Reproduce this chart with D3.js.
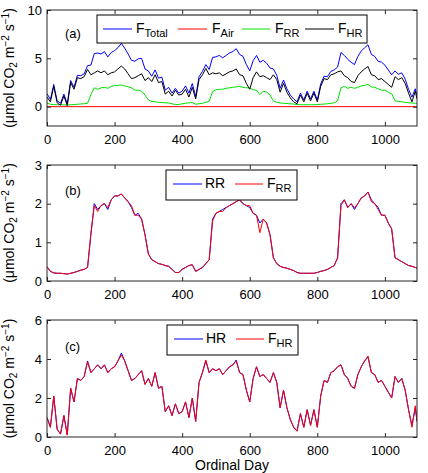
<!DOCTYPE html>
<html>
<head>
<meta charset="utf-8">
<script src="https://cdn.jsdelivr.net/npm/d3@7"></script>
<style>
  body { margin: 0; background: #fff; }
  svg text { font-family: "Liberation Sans", Arial, sans-serif; fill: #000; }
</style>
</head>
<body>
<div id="chart"></div>
<script>
// Soil respiration components (10-day sampling)
const days = d3.range(0, 1091, 10).concat([1095]);

const fTotal = [1.35, 0.75, 2.3, 0.6, 0.35, 1.3, 0.3, 2.7, 2.0, 3.25,
  3.2, 3.4, 4.25, 4.3, 5.5, 5.55, 5.45, 5.7, 5.15, 5.6,
  5.8, 6.1, 6.55, 6.05, 5.45, 4.8, 4.7, 4.95, 5.0, 3.9,
  3.7, 3.15, 3.8, 2.95, 3.05, 1.7, 2.0, 1.4, 1.9, 1.4,
  1.6, 2.15, 1.4, 2.4, 1.05, 3.1, 3.65, 4.35, 3.85, 5.1,
  5.15, 5.3, 5.05, 5.3, 5.55, 5.7, 6.0, 5.4, 5.2, 4.35,
  3.7, 4.75, 5.3, 4.6, 4.8, 4.5, 4.0, 3.9, 3.25, 1.9,
  2.75, 1.85, 1.2, 0.8, 0.5, 1.4, 0.7, 1.6, 0.8, 1.6,
  0.7, 2.35, 3.15, 3.1, 3.65, 3.8, 4.1, 5.6, 5.3, 4.9,
  4.6, 4.35, 5.2, 5.75, 6.1, 6.4, 5.4, 5.2, 4.7, 4.6,
  4.3, 3.8, 3.3, 3.7, 3.35, 3.5, 2.85, 1.8, 0.98, 1.85, 1.13];

const fAirDays = [0, 1095];
const fAir = [0, 0];

// modelled root respiration (RR) and fitted F_RR
const rr = [0.37, 0.25, 0.21, 0.2, 0.2, 0.19, 0.18, 0.2, 0.22, 0.25,
  0.28, 0.3, 0.35, 1.2, 2.0, 1.85, 1.95, 2.0, 1.85, 2.1,
  2.2, 2.2, 2.25, 2.15, 2.05, 1.9, 1.7, 1.75, 1.6, 1.2,
  0.7, 0.55, 0.5, 0.45, 0.43, 0.4, 0.38, 0.3, 0.22, 0.22,
  0.3, 0.35, 0.4, 0.42, 0.25, 0.3, 0.35, 0.45, 0.55, 1.6,
  1.75, 1.8, 1.85, 1.9, 1.95, 2.0, 2.05, 2.1, 2.0, 1.95,
  1.9, 1.75, 1.7, 1.5, 1.6, 1.5, 1.2, 0.6, 0.45, 0.38,
  0.35, 0.33, 0.3, 0.27, 0.22, 0.2, 0.2, 0.2, 0.2, 0.2,
  0.22, 0.25, 0.27, 0.3, 0.35, 0.4, 0.6, 2.0, 2.1, 1.9,
  2.0, 1.85, 2.0, 2.15, 2.2, 2.3, 2.1, 2.0, 1.9, 1.7,
  1.7, 1.5, 1.35, 0.6, 0.55, 0.5, 0.45, 0.4, 0.38, 0.35, 0.33];

const fRR = [0.37, 0.25, 0.21, 0.2, 0.2, 0.19, 0.18, 0.2, 0.22, 0.25,
  0.28, 0.3, 0.35, 1.25, 1.95, 1.8, 1.95, 2.0, 1.9, 2.1,
  2.2, 2.2, 2.25, 2.15, 2.05, 1.95, 1.7, 1.7, 1.6, 1.2,
  0.7, 0.55, 0.5, 0.45, 0.43, 0.4, 0.38, 0.3, 0.22, 0.22,
  0.3, 0.35, 0.4, 0.42, 0.25, 0.3, 0.35, 0.45, 0.55, 1.55,
  1.75, 1.8, 1.8, 1.9, 1.95, 2.0, 2.05, 2.1, 2.0, 1.95,
  1.95, 1.75, 1.7, 1.25, 1.6, 1.5, 1.2, 0.6, 0.45, 0.38,
  0.35, 0.33, 0.3, 0.27, 0.22, 0.2, 0.2, 0.2, 0.2, 0.2,
  0.22, 0.25, 0.27, 0.3, 0.35, 0.4, 0.6, 1.95, 2.1, 1.9,
  2.0, 1.9, 2.0, 2.15, 2.2, 2.3, 2.05, 2.0, 1.85, 1.7,
  1.7, 1.5, 1.35, 0.6, 0.55, 0.5, 0.45, 0.4, 0.38, 0.35, 0.33];

// heterotrophic respiration (HR) and fitted F_HR
const hr = [1.0, 0.5, 2.1, 0.4, 0.15, 1.1, 0.1, 2.5, 1.8, 3.0,
  2.9, 3.1, 3.9, 3.3, 3.5, 3.7, 3.5, 3.7, 3.3, 3.5,
  3.6, 3.9, 4.3, 3.9, 3.4, 2.9, 3.0, 3.2, 3.4, 2.7,
  3.0, 2.6, 3.3, 2.5, 2.6, 1.3, 1.6, 1.1, 1.7, 1.2,
  1.3, 1.8, 1.0, 2.0, 0.8, 2.8, 3.3, 3.9, 3.3, 3.5,
  3.4, 3.5, 3.2, 3.4, 3.6, 3.7, 3.95, 3.3, 3.2, 2.4,
  1.8, 3.0, 3.6, 3.1, 3.2, 3.0, 2.8, 3.3, 2.8, 1.5,
  2.4, 1.5, 0.9, 0.5, 0.3, 1.2, 0.5, 1.4, 0.6, 1.4,
  0.5, 2.1, 2.9, 2.8, 3.3, 3.4, 3.6, 3.7, 3.2, 3.0,
  2.6, 2.5, 3.2, 3.6, 3.9, 4.1, 3.3, 3.2, 2.8, 2.9,
  2.6, 2.3, 2.0, 3.1, 2.8, 3.0, 2.4, 1.4, 0.6, 1.5, 0.8];

const fHR = [1.0, 0.5, 2.1, 0.4, 0.15, 1.1, 0.1, 2.5, 1.8, 3.0,
  2.9, 3.1, 3.85, 3.3, 3.5, 3.7, 3.5, 3.7, 3.3, 3.5,
  3.6, 3.9, 4.2, 3.9, 3.4, 2.9, 3.0, 3.2, 3.4, 2.7,
  3.0, 2.6, 3.3, 2.5, 2.6, 1.3, 1.6, 1.1, 1.7, 1.2,
  1.3, 1.8, 1.0, 2.0, 0.8, 2.8, 3.3, 3.95, 3.3, 3.5,
  3.4, 3.5, 3.2, 3.4, 3.6, 3.7, 3.9, 3.3, 3.2, 2.4,
  1.8, 3.0, 3.6, 3.1, 3.2, 3.0, 2.8, 3.3, 2.8, 1.5,
  2.4, 1.5, 0.9, 0.5, 0.3, 1.2, 0.5, 1.4, 0.6, 1.4,
  0.5, 2.1, 2.9, 2.8, 3.3, 3.4, 3.6, 3.7, 3.2, 3.0,
  2.6, 2.5, 3.2, 3.6, 3.9, 4.15, 3.3, 3.2, 2.8, 2.9,
  2.6, 2.3, 2.0, 3.1, 2.8, 3.0, 2.4, 1.4, 0.5, 1.6, 0.8];

const xTicks = [0, 200, 400, 600, 800, 1000];

const BLUE = '#0000ff', RED = '#ff0000', GREEN = '#00e000', BLACK = '#000000';

const W = 428, H = 473;
const svg = d3.select('#chart').append('svg')
  .attr('width', W).attr('height', H);

const x = d3.scaleLinear().domain([0, 1095]).range([47, 417]);
const fmt = d3.format('d');

const panels = [
  {
    label: '(a)', top: 10, bottom: 126, yDomain: [-2, 10], yTicks: [0, 5, 10],
    labelY: 38,
    series: [
      { d: days, v: fTotal, c: BLUE },
      { d: fAirDays, v: fAir, c: RED },
      { d: days, v: fRR, c: GREEN },
      { d: days, v: fHR, c: BLACK }
    ],
    legend: { x: 97, y: 15, w: 270, h: 28, lineY: 29,
      items: [
        { c: BLUE, x0: 103, x1: 132, tx: 136, main: 'F', sub: 'Total' },
        { c: RED, x0: 178, x1: 207, tx: 212, main: 'F', sub: 'Air' },
        { c: GREEN, x0: 242, x1: 270, tx: 275, main: 'F', sub: 'RR' },
        { c: BLACK, x0: 305, x1: 334, tx: 338, main: 'F', sub: 'HR' }
      ] }
  },
  {
    label: '(b)', top: 165, bottom: 281, yDomain: [0, 3], yTicks: [0, 1, 2, 3],
    labelY: 195,
    series: [
      { d: days, v: rr, c: BLUE },
      { d: days, v: fRR, c: RED }
    ],
    legend: { x: 166, y: 170, w: 131, h: 30, lineY: 184,
      items: [
        { c: BLUE, x0: 173, x1: 202, tx: 205, main: 'RR', sub: '' },
        { c: RED, x0: 235, x1: 263, tx: 267, main: 'F', sub: 'RR' }
      ] }
  },
  {
    label: '(c)', top: 320, bottom: 437, yDomain: [0, 6], yTicks: [0, 2, 4, 6],
    labelY: 351,
    series: [
      { d: days, v: hr, c: BLUE },
      { d: days, v: fHR, c: RED }
    ],
    legend: { x: 167, y: 325, w: 131, h: 30, lineY: 339,
      items: [
        { c: BLUE, x0: 174, x1: 203, tx: 206, main: 'HR', sub: '' },
        { c: RED, x0: 236, x1: 264, tx: 268, main: 'F', sub: 'HR' }
      ] }
  }
];

panels.forEach((p, i) => {
  const y = d3.scaleLinear().domain(p.yDomain).range([p.bottom, p.top]);
  const g = svg.append('g');

  // clip for lines
  const clipId = 'clip' + i;
  svg.append('clipPath').attr('id', clipId)
    .append('rect')
    .attr('x', x.range()[0]).attr('y', p.top)
    .attr('width', x.range()[1] - x.range()[0])
    .attr('height', p.bottom - p.top);

  const line = d3.line();
  const lines = g.append('g').attr('clip-path', `url(#${clipId})`);
  p.series.forEach(s => {
    lines.append('path')
      .datum(s.d.map((d, k) => [x(d), y(s.v[k])]))
      .attr('d', line)
      .attr('fill', 'none')
      .attr('stroke', s.c)
      .attr('stroke-width', 1);
  });

  // axes with inward ticks on all four sides
  const bottomAxis = d3.axisBottom(x).tickValues(xTicks).tickSize(-4).tickPadding(8.5).tickFormat(fmt);
  const topAxis = d3.axisTop(x).tickValues(xTicks).tickSize(-4).tickFormat('');
  const leftAxis = d3.axisLeft(y).tickValues(p.yTicks).tickSize(-4).tickPadding(5).tickFormat(fmt);
  const rightAxis = d3.axisRight(y).tickValues(p.yTicks).tickSize(-4).tickFormat('');

  const ax = [
    g.append('g').attr('transform', `translate(0,${p.bottom})`).call(bottomAxis),
    g.append('g').attr('transform', `translate(0,${p.top})`).call(topAxis),
    g.append('g').attr('transform', `translate(${x.range()[0]},0)`).call(leftAxis),
    g.append('g').attr('transform', `translate(${x.range()[1]},0)`).call(rightAxis)
  ];
  ax.forEach(a => {
    a.select('.domain').remove();
    a.selectAll('line').attr('stroke', '#262626');
    a.selectAll('text')
      .style('font-family', '"Liberation Sans", Arial, sans-serif')
      .style('font-size', '13px')
      .attr('fill', '#000');
  });

  g.append('rect')
    .attr('x', x.range()[0]).attr('y', p.top)
    .attr('width', x.range()[1] - x.range()[0])
    .attr('height', p.bottom - p.top)
    .attr('fill', 'none')
    .attr('stroke', '#262626')
    .attr('stroke-width', 1);

  // panel tag
  g.append('text')
    .attr('x', 65).attr('y', p.labelY)
    .style('font-size', '13px')
    .text(p.label);

  // legend
  const L = p.legend;
  const lg = g.append('g');
  lg.append('rect')
    .attr('x', L.x).attr('y', L.y).attr('width', L.w).attr('height', L.h)
    .attr('fill', '#fff').attr('stroke', '#000').attr('stroke-width', 1);
  L.items.forEach(it => {
    lg.append('line')
      .attr('x1', it.x0).attr('x2', it.x1)
      .attr('y1', L.lineY).attr('y2', L.lineY)
      .attr('stroke', it.c).attr('stroke-width', 1);
    const t = lg.append('text')
      .attr('x', it.tx).attr('y', L.lineY + 4)
      .style('font-size', '14px')
      .text(it.main);
    if (it.sub) {
      t.append('tspan').attr('dy', 4).style('font-size', '11px').text(it.sub);
    }
  });

  // y-axis label
  const cy = (p.top + p.bottom) / 2;
  const yl = svg.append('text')
    .attr('transform', `translate(14,${cy}) rotate(-90)`)
    .attr('text-anchor', 'middle')
    .style('font-size', '14px');
  yl.append('tspan').text('(\u03bcmol CO');
  yl.append('tspan').attr('dy', 3).style('font-size', '10px').text('2');
  yl.append('tspan').attr('dy', -3).text(' m');
  yl.append('tspan').attr('dy', -5).style('font-size', '10px').text('\u22122');
  yl.append('tspan').attr('dy', 5).text(' s');
  yl.append('tspan').attr('dy', -5).style('font-size', '10px').text('\u22121');
  yl.append('tspan').attr('dy', 5).text(')');
});

// x-axis title
svg.append('text')
  .attr('x', (x.range()[0] + x.range()[1]) / 2)
  .attr('y', 470)
  .attr('text-anchor', 'middle')
  .style('font-size', '14px')
  .text('Ordinal Day');
</script>
</body>
</html>
